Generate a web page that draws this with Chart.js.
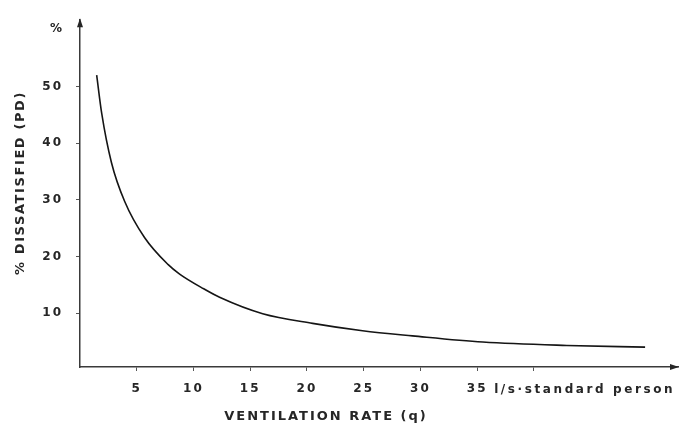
<!DOCTYPE html>
<html>
<head>
<meta charset="utf-8">
<script src="https://cdn.jsdelivr.net/npm/chart.js@4.4.0/dist/chart.umd.min.js"></script>
<style>
  html, body { margin: 0; padding: 0; background: #fff; }
  #wrap { width: 679px; height: 426px; }
</style>
</head>
<body>
<div id="wrap"><canvas id="pd_chart"></canvas></div>
<script>
// ventilation rate q (l/s per standard person) and percent dissatisfied
var rate = [1.47, 1.91, 2.77, 3.94, 5.70, 7.75, 8.78, 10.9, 12.3, 16.1, 20.5, 24.9, 29.3, 35.5, 42.9, 49.8];
var dissatisfied = [52.0, 45.3, 36.6, 29.7, 23.3, 18.6, 16.9, 14.3, 12.8, 9.9, 8.2, 6.9, 6.0, 4.9, 4.3, 4.0];

var xTicks = [5, 10, 15, 20, 25, 30, 35, 40];
var xLabels = ['5', '10', '15', '20', '25', '30', '35', ''];
var yTicks = [10, 20, 30, 40, 50];

var xTitle = 'VENTILATION RATE (q)';
var yTitle = '% DISSATISFIED (PD)';
var unitText = 'l/s\u00b7standard person';

var ink = '#262626';

var pts = [];
for (var i = 0; i < rate.length; i++) {
    pts.push({ x: rate[i], y: dissatisfied[i] });
}

var extras = {
    id: 'extras',
    beforeDraw: function (chart) {
        chart.ctx.letterSpacing = '2px';
    },
    afterDraw: function (chart) {
        var ctx = chart.ctx;
        var a = chart.chartArea;
        var xs = chart.scales.x;
        ctx.save();
        ctx.fillStyle = ink;

        // arrow heads
        ctx.beginPath();
        ctx.moveTo(a.left, a.top - 2);
        ctx.lineTo(a.left - 3, a.top + 7);
        ctx.lineTo(a.left + 3, a.top + 7);
        ctx.closePath();
        ctx.fill();
        ctx.beginPath();
        ctx.moveTo(a.right + 1, a.bottom);
        ctx.lineTo(a.right - 8, a.bottom - 3);
        ctx.lineTo(a.right - 8, a.bottom + 3);
        ctx.closePath();
        ctx.fill();

        // % at the top of the y axis
        ctx.letterSpacing = '0px';
        ctx.font = 'bold 12px "DejaVu Sans"';
        ctx.textAlign = 'center';
        ctx.textBaseline = 'middle';
        ctx.fillText('%', a.left - 24, a.top + 9);

        // unit after the 35 label
        ctx.letterSpacing = '2.6px';
        ctx.font = 'bold 12px "DejaVu Sans"';
        ctx.textAlign = 'left';
        ctx.fillText(unitText, xs.getPixelForValue(35) + 17, a.bottom + 23);

        // axis titles
        ctx.letterSpacing = '2px';
        ctx.font = 'bold 13px "DejaVu Sans"';
        ctx.textAlign = 'center';
        ctx.fillText(xTitle, a.left + 246, a.bottom + 50);

        ctx.letterSpacing = '1.6px';
        ctx.translate(21, 183);
        ctx.rotate(-Math.PI / 2);
        ctx.fillText(yTitle, 0, 0);
        ctx.restore();
        ctx.letterSpacing = '0px';
    }
};

var ctx = document.getElementById('pd_chart').getContext('2d');
var chart = new Chart(ctx, {
    type: 'scatter',
    data: {
        datasets: [{
            data: pts,
            showLine: true,
            borderColor: '#151515',
            borderWidth: 1.6,
            pointRadius: 0,
            cubicInterpolationMode: 'monotone'
        }]
    },
    options: {
        responsive: true,
        maintainAspectRatio: false,
        animation: false,
        layout: { padding: { top: 15, right: 1, left: 0, bottom: 0 } },
        plugins: {
            legend: { display: false },
            tooltip: { enabled: false }
        },
        scales: {
            x: {
                type: 'linear',
                min: 0,
                max: 52.7,
                afterBuildTicks: function (s) {
                    s.ticks = xTicks.map(function (v) { return { value: v }; });
                },
                afterFit: function (s) { s.height = 59; },
                ticks: {
                    color: ink,
                    padding: 11,
                    font: { family: 'DejaVu Sans', size: 12, weight: 'bold' },
                    callback: function (v) {
                        var k = xTicks.indexOf(v);
                        return k >= 0 ? xLabels[k] : '';
                    }
                },
                grid: { drawOnChartArea: false, tickLength: 4, color: '#555' },
                border: { color: '#3a3a3a', width: 1.5 }
            },
            y: {
                type: 'linear',
                min: 0.5,
                max: 61.7,
                afterBuildTicks: function (s) {
                    s.ticks = yTicks.map(function (v) { return { value: v }; });
                },
                afterFit: function (s) { s.width = 80; },
                ticks: {
                    color: ink,
                    padding: 13,
                    font: { family: 'DejaVu Sans', size: 12, weight: 'bold' }
                },
                grid: { drawOnChartArea: false, tickLength: 4, color: '#555' },
                border: { color: '#3a3a3a', width: 1.5 }
            }
        }
    },
    plugins: [extras]
});
</script>
</body>
</html>
